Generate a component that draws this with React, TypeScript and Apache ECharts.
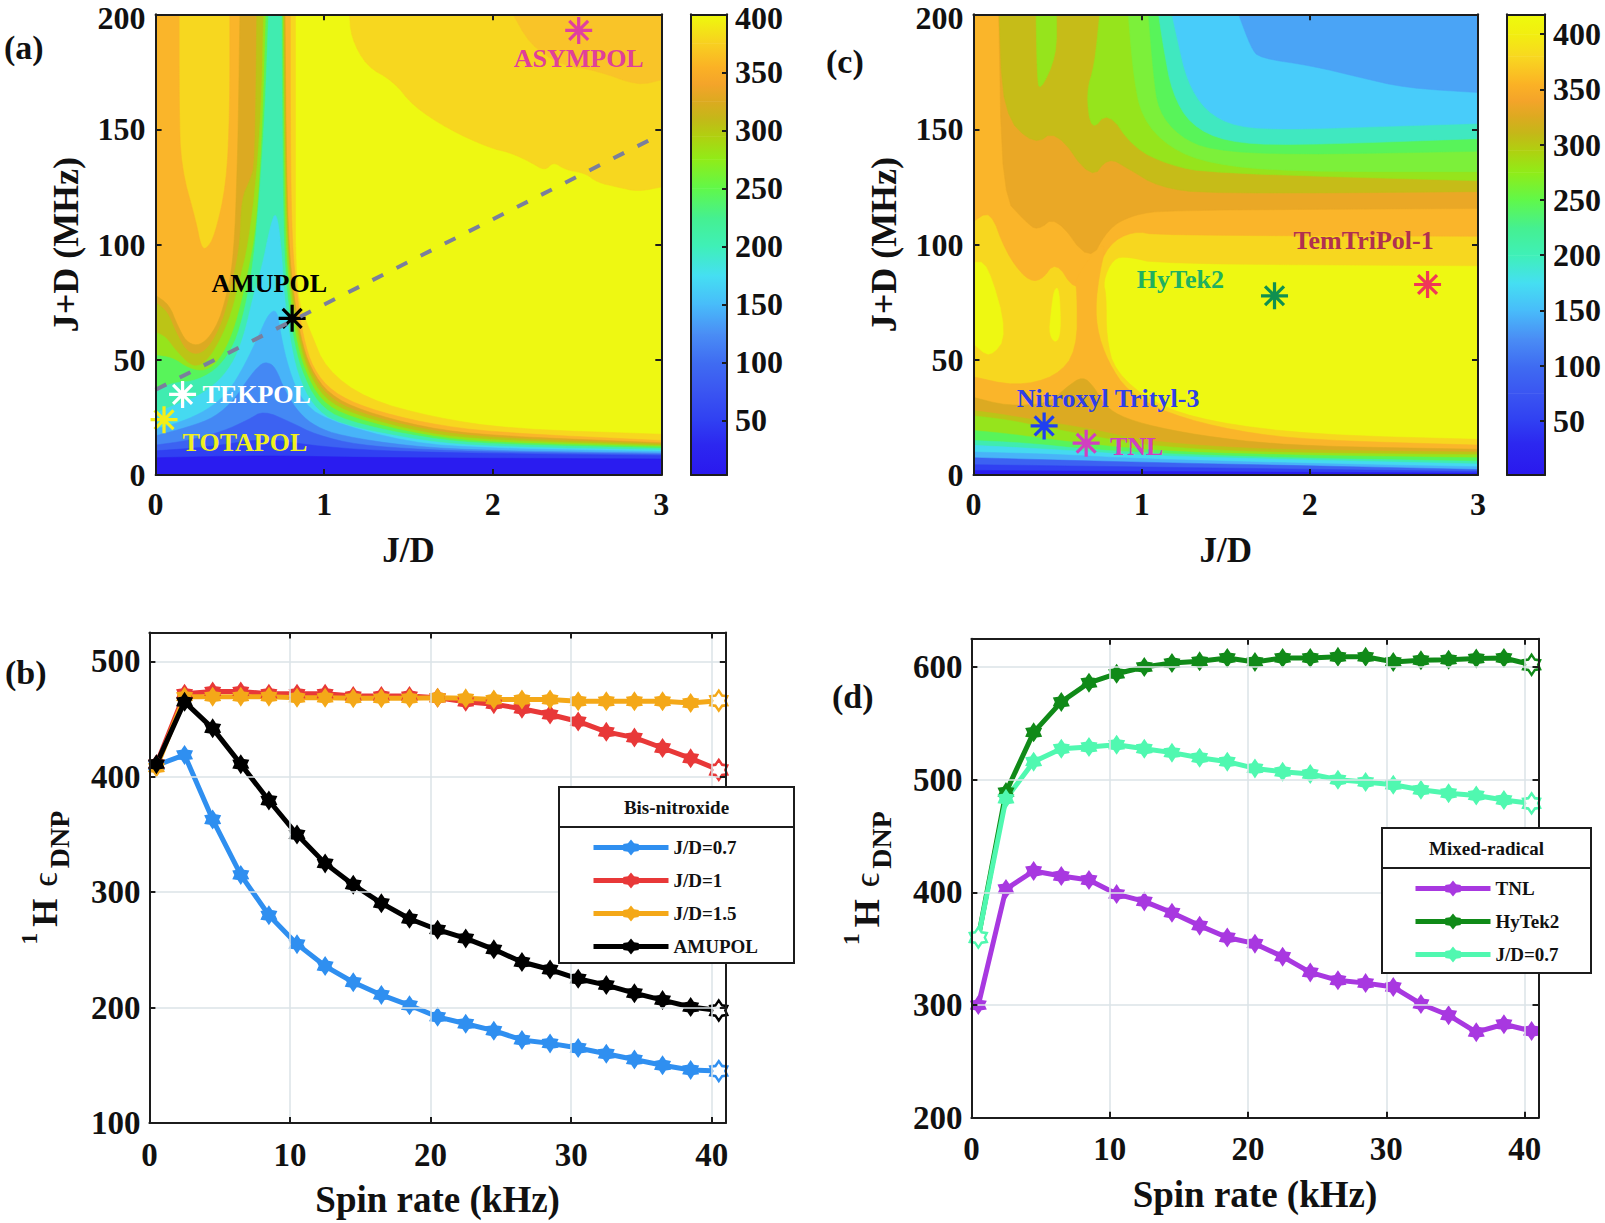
import React, { useEffect, useRef } from "react";
import * as echarts from "echarts";

const FONT = "'Liberation Serif','Times New Roman',serif";
type P = number[];

// ---------- line data (b) and (d)
const spinRate = [0.5, 2.5, 4.5, 6.5, 8.5, 10.5, 12.5, 14.5, 16.5, 18.5, 20.5, 22.5, 24.5, 26.5, 28.5, 30.5, 32.5, 34.5, 36.5, 38.5, 40.5];
const bJD07 = [410, 419, 363, 315, 280, 255, 236, 222, 211, 202, 192, 186, 180, 172, 169, 165, 160, 155, 150, 146, 145];
const bJD1 = [411, 472, 474, 474, 472, 472, 472, 470, 470, 470, 468.5, 465, 463, 459, 454, 448, 439, 434, 425, 416, 406];
const bJD15 = [408, 469.5, 469.5, 469.5, 469.5, 468.5, 468.5, 468, 468, 468, 468.5, 468, 467, 467, 467, 465.5, 465.5, 465.5, 465.5, 464, 466];
const bAmupol = [411, 465, 442, 411, 379.5, 350, 325, 306.5, 290.5, 277, 267.5, 260, 250.5, 239.5, 233, 225, 219.5, 212.5, 206.5, 200.5, 197.5];
const dTNL = [300, 403, 419, 414.5, 411, 398.5, 392, 382, 370.5, 360, 354.5, 343, 329, 322, 319.5, 316, 301, 291, 276, 283, 277];
const dHyTek2 = [360, 489, 542, 569, 586, 594, 600, 603.5, 605, 608, 604.5, 608, 608, 609, 609, 604.5, 606, 606.5, 607.5, 608, 602];
const dJD07 = [360, 483, 516, 527.5, 529, 531, 527.5, 524, 519.5, 516, 510, 507, 505, 500, 498, 495.5, 491, 488, 486, 482, 479];

// ---------- colour bar stops: [value, colour]
const cbarStops: [number, string][] = [[3, "#2a18ee"], [30, "#2c28f0"], [50, "#3040f2"], [75, "#3a55f2"], [100, "#3f6cf2"], [125, "#4a8ef5"], [150, "#48bcfa"], [175, "#45dff2"], [200, "#3ff0b8"], [225, "#45f090"], [250, "#60f84a"], [275, "#90ec18"], [295, "#b0d010"], [310, "#c4b818"], [325, "#dcaa20"], [340, "#f4a42a"], [355, "#fbb225"], [375, "#f8d020"], [400, "#eefa0c"]];
const cbarStopsC: [number, string][] = [[1, "#2a18ee"], [30, "#2c28f0"], [50, "#3040f2"], [75, "#3a55f2"], [100, "#3f6cf2"], [125, "#4a8ef5"], [150, "#48bcfa"], [175, "#45dff2"], [200, "#3ff0b8"], [225, "#45f090"], [250, "#60f84a"], [275, "#90ec18"], [295, "#b0d010"], [310, "#c4b818"], [325, "#dcaa20"], [340, "#f4a42a"], [355, "#fbb225"], [380, "#f8d820"], [400, "#f2ee10"], [418, "#eefa0c"]];
const cbarTicks = [50, 100, 150, 200, 250, 300, 350, 400];

// ---------- band colours
const YELLOW = "#eef812", GOLD = "#f7d71f", ORANGE = "#fab52a", DGOLD = "#dcaa22", YGREEN = "#bcc416", LIME = "#96e41c", GREEN = "#58f45a", TEAL = "#40ecb0", CYAN = "#45daf0", LBLUE = "#48b4f8", BLUE = "#4488f4", BLUE2 = "#3c62f2", BLUE3 = "#3040f2", BLUE4 = "#2a1cf0";

// ---------- panel (a) contour outlines, [J/D, J+D]
const aFull: P[] = [[0, 0], [0, 200], [3, 200], [3, 0]];
const aGoldMain: P[] = [[0, 0], [0, 200], [0.83, 200], [0.83, 140], [0.83, 78], [0.92, 62], [1.01, 46], [1.25, 33], [1.65, 25], [2.1, 20], [3, 17.7], [3, 0]];
const aGoldTop: P[] = [[1.15, 200], [1.16, 190], [1.25, 177.5], [1.41, 171], [1.53, 160], [1.74, 150], [1.98, 142], [2.1, 140], [2.22, 136], [2.31, 132], [2.36, 136], [2.43, 132.5], [2.55, 131], [2.62, 127], [2.74, 125], [2.86, 123], [3, 125], [3, 200]];
const aOrangeMain: P[] = [[0, 0], [0, 200], [0.14, 200], [0.14, 160], [0.15, 134], [0.24, 110], [0.27, 99], [0.3, 98], [0.35, 103.6], [0.42, 126], [0.44, 158], [0.44, 200], [0.8, 200], [0.8, 140], [0.81, 100], [0.84, 78], [0.875, 60], [0.935, 46], [1.05, 36], [1.25, 29], [1.6, 22.5], [2, 18.5], [3, 15], [3, 0]];
const aOrangeTop: P[] = [[2.12, 200], [2.22, 187], [2.4, 178], [2.62, 175.5], [2.86, 169], [3, 171.5], [3, 200]];
const aDGold: P[] = [[0, 0], [0, 78], [0.08, 74], [0.13, 65], [0.18, 58], [0.245, 56], [0.31, 59], [0.37, 66], [0.41, 75], [0.45, 88], [0.47, 105], [0.48, 125], [0.49, 150], [0.5, 200], [0.768, 200], [0.775, 140], [0.79, 100], [0.82, 78], [0.86, 60], [0.92, 46], [1.03, 35], [1.22, 28], [1.6, 20.5], [2, 17], [3, 14], [3, 0]];
const aYGreen: P[] = [[0, 0], [0, 75], [0.07, 71], [0.12, 62], [0.18, 54], [0.245, 52], [0.31, 55], [0.37, 62], [0.42, 72], [0.46, 85], [0.5, 100], [0.51, 120], [0.56, 128], [0.59, 135], [0.6, 200], [0.765, 200], [0.772, 140], [0.785, 100], [0.815, 78], [0.855, 60], [0.91, 46], [1.02, 34], [1.2, 27], [1.6, 19.5], [2, 16], [3, 13.5], [3, 0]];
const aLime: P[] = [[0, 0], [0, 62], [0.06, 60], [0.12, 54], [0.2, 48], [0.25, 47], [0.31, 50], [0.38, 58], [0.45, 70], [0.5, 85], [0.55, 100], [0.6, 130], [0.63, 165], [0.64, 200], [0.757, 200], [0.765, 140], [0.78, 100], [0.805, 78], [0.845, 60], [0.895, 46], [1, 33], [1.18, 26], [1.6, 18], [2, 15], [3, 12.8], [3, 0]];
const aGreen: P[] = [[0, 0], [0, 52], [0.1, 51], [0.2, 46], [0.3, 45], [0.38, 50], [0.45, 60], [0.5, 72], [0.55, 88], [0.6, 108], [0.635, 150], [0.655, 200], [0.752, 200], [0.76, 140], [0.77, 100], [0.795, 78], [0.83, 60], [0.88, 46], [0.98, 32], [1.15, 25], [1.6, 17], [2, 14], [3, 12.3], [3, 0]];
const aTeal: P[] = [[0, 0], [0, 37], [0.1, 40], [0.25, 41], [0.38, 47], [0.47, 57], [0.53, 72], [0.58, 92], [0.62, 125], [0.65, 160], [0.67, 200], [0.747, 200], [0.752, 140], [0.76, 100], [0.78, 78], [0.815, 60], [0.86, 46], [0.96, 31], [1.12, 23.5], [1.6, 16], [2, 13.3], [3, 11.6], [3, 0]];
const aCyan: P[] = [[0, 0], [0, 27], [0.1, 30], [0.25, 34], [0.38, 41], [0.47, 50], [0.53, 62], [0.58, 78], [0.63, 90], [0.68, 108], [0.715, 115], [0.745, 100], [0.762, 78], [0.795, 60], [0.84, 44], [0.93, 30], [1.08, 22], [1.6, 14.5], [2, 12.3], [3, 10.8], [3, 0]];
const aLBlue: P[] = [[0, 0], [0, 20], [0.15, 23], [0.3, 28], [0.42, 35], [0.5, 44], [0.57, 54], [0.62, 62], [0.67, 70], [0.72, 72], [0.745, 60], [0.79, 46], [0.86, 33], [1, 24], [1.5, 14], [2, 11.5], [3, 10.2], [3, 0]];
const aBlue: P[] = [[0, 0], [0, 17], [0.2, 21], [0.35, 25], [0.47, 33], [0.55, 42], [0.62, 48], [0.66, 49], [0.71, 47], [0.77, 36], [0.85, 27], [0.95, 21], [1.1, 17], [1.5, 12.5], [2, 10.5], [3, 9.5], [3, 0]];
const aBlue2: P[] = [[0, 0], [0, 13], [0.2, 15], [0.4, 19], [0.55, 24], [0.64, 28], [0.8, 23], [0.95, 17.5], [1.2, 13], [1.6, 11], [2, 10], [3, 9], [3, 0]];
const aBlue3: P[] = [[0, 0], [0, 10.5], [0.3, 12], [0.65, 16], [0.9, 13], [1.3, 10.5], [2, 9.3], [3, 8.5], [3, 0]];
const aBlue4: P[] = [[0, 0], [0, 7.5], [0.65, 8.5], [1.3, 7.5], [3, 7], [3, 0]];

// ---------- panel (c) contour outlines
const cGoldMain: P[] = [[0, 0], [0, 200], [3, 200], [3, 90.8], [1.1, 91.6], [0.92, 94.8], [0.83, 94], [0.77, 84], [0.79, 78], [0.79, 60], [0.84, 45], [1.07, 31], [1.41, 23], [2.02, 17.5], [3, 15.5], [3, 0]];
const cIslandL: P[] = [[0, 92.4], [0.082, 92.4], [0.204, 61], [0.098, 50.6], [0, 57]];
const cIslandM: P[] = [[0.48, 81], [0.51, 81], [0.52, 62], [0.49, 57], [0.45, 61], [0.46, 70]];
const cOrangeTop: P[] = [[0, 110], [0.1, 115], [0.19, 97], [0.31, 85], [0.4, 84], [0.49, 93], [0.6, 80], [0.72, 85], [0.8, 100], [0.95, 106], [1.1, 104], [3, 103.6], [3, 200], [0, 200]];
const cOrangeLow: P[] = [[0, 0], [0, 42.6], [0.25, 38.6], [0.49, 42.6], [0.616, 54], [0.616, 80], [0.6, 85], [0.8, 105], [0.73, 80], [0.73, 64], [0.8, 49], [0.92, 36], [1.16, 26.5], [1.56, 19], [2, 15.2], [3, 13], [3, 0]];
const cDGoldTop: P[] = [[0.15, 200], [0.17, 121], [0.31, 110], [0.38, 106], [0.49, 112.5], [0.69, 92], [0.8, 107], [0.95, 113], [1.16, 115], [3, 115.7], [3, 200]];
const cDGoldLow: P[] = [[0, 0], [0, 33.7], [0.2, 30], [0.45, 31], [0.55, 38], [0.65, 43], [0.72, 38], [0.78, 30], [0.9, 24.5], [1.16, 19.5], [1.56, 15], [2, 12.5], [3, 11.2], [3, 0]];
const cYGreenTop: P[] = [[0.152, 200], [0.174, 157], [0.36, 143], [0.49, 150], [0.7, 128], [0.8, 138], [0.92, 133], [1.1, 125], [1.4, 122], [3, 123], [3, 200]];
const cYGreenLow: P[] = [[0, 0], [0, 28], [0.2, 26], [0.4, 23.5], [0.7, 20], [1, 15], [1.5, 12], [2, 10.8], [3, 10], [3, 0]];
const cLimeTop: P[] = [[0.75, 200], [0.72, 178], [0.67, 166], [0.7, 149], [0.8, 158], [0.95, 142], [1.165, 134.5], [1.41, 131], [3, 127.7], [3, 200]];
const cLimePatch: P[] = [[0.372, 200], [0.378, 174], [0.393, 166], [0.494, 182], [0.494, 200]];
const cLimeLow: P[] = [[0, 0], [0, 25.7], [0.2, 24], [0.4, 21], [0.7, 17], [1, 13], [1.5, 10.5], [2, 9.5], [3, 8.8], [3, 0]];
const cGreenTop: P[] = [[0.92, 200], [0.95, 174], [1, 155], [1.165, 142], [1.41, 135], [1.87, 131.7], [3, 131.7], [3, 200]];
const cGreenLow: P[] = [[0, 0], [0, 19.3], [0.2, 18], [0.5, 15], [0.8, 12.5], [1.2, 10], [2, 8.5], [3, 7.5], [3, 0]];
const cGreen2Top: P[] = [[1.04, 200], [1.07, 174], [1.1, 158], [1.225, 147], [1.41, 141], [1.87, 139], [3, 140.5], [3, 200]];
const cTealTop: P[] = [[1.1, 200], [1.13, 185.5], [1.18, 166], [1.29, 152], [1.5, 144.6], [1.87, 143], [3, 146], [3, 200]];
const cTealLow: P[] = [[0, 0], [0, 15], [0.3, 14], [0.7, 11], [1.2, 9], [2, 7.2], [3, 6], [3, 0]];
const cCyanTop: P[] = [[1.18, 200], [1.21, 190], [1.27, 171], [1.38, 158], [1.56, 151], [1.87, 150], [2.32, 151], [3, 152.6], [3, 200]];
const cCyanLow: P[] = [[0, 0], [0, 12.9], [0.5, 11], [1, 8.5], [2, 6.5], [3, 4.8], [3, 0]];
const cLBlueTop: P[] = [[1.576, 200], [1.65, 185.5], [1.7, 181], [2.02, 177.5], [2.29, 172.7], [2.57, 168], [3, 166], [3, 200]];
const cLBlueLow: P[] = [[0, 0], [0, 10], [0.5, 9], [1, 7], [2, 5], [3, 3.6], [3, 0]];
const cBlueLow: P[] = [[0, 0], [0, 7.5], [1, 5.5], [2, 4], [3, 2.4], [3, 0]];
const cBlue3Low: P[] = [[0, 0], [0, 4.5], [1, 3.5], [3, 1.5], [3, 0]];
const cBlue4Low: P[] = [[0, 0], [0, 2], [3, 0.8], [3, 0]];

type Layer = { color: string; pts: P[] };
const layersA: Layer[] = ([[YELLOW, aFull], [GOLD, aGoldMain], [GOLD, aGoldTop], [ORANGE, aOrangeMain], ["#f9c428", aOrangeTop], [DGOLD, aDGold], [YGREEN, aYGreen], [LIME, aLime], [GREEN, aGreen], [TEAL, aTeal], [CYAN, aCyan], [LBLUE, aLBlue], [BLUE, aBlue], [BLUE2, aBlue2], [BLUE3, aBlue3], [BLUE4, aBlue4]] as [string, P[]][]).map(([color, pts]) => ({ color, pts }));
const layersC: Layer[] = ([[YELLOW, aFull], [GOLD, cGoldMain], [YELLOW, cIslandL], [YELLOW, cIslandM], [ORANGE, cOrangeTop], [ORANGE, cOrangeLow], ["#eaa826", cDGoldTop], [DGOLD, cDGoldLow], ["#c6bc18", cYGreenTop], [YGREEN, cYGreenLow], [LIME, cLimeTop], [LIME, cLimePatch], [LIME, cLimeLow], ["#7cf03a", cGreenTop], [GREEN, cGreenLow], [GREEN, cGreen2Top], ["#40e8c0", cTealTop], [TEAL, cTealLow], ["#48ccfa", cCyanTop], [CYAN, cCyanLow], ["#4aa4f6", cLBlueTop], [LBLUE, cLBlueLow], [BLUE2, cBlueLow], [BLUE3, cBlue3Low], [BLUE4, cBlue4Low]] as [string, P[]][]).map(([color, pts]) => ({ color, pts }));

// ---------- annotations
const aDashed: P[] = [[0, 37], [3, 148]];
const aStarPts: P[] = [[0.05, 24], [0.16, 35], [0.81, 68], [2.51, 193]];
const aStarColors = ["#f4ee18", "#ffffff", "#000000", "#e040a0"];
const aLabelNames = ["TOTAPOL", "TEKPOL", "AMUPOL", "ASYMPOL"];
const aLabelPts: P[] = [[0.53, 14.2], [0.6, 35], [0.674, 83], [2.51, 181]];
const aLabelColors = ["#f0f020", "#ffffff", "#000000", "#e0409a"];
const cStarPts: P[] = [[0.42, 21.3], [0.67, 13.8], [1.79, 77.8], [2.7, 82.7]];
const cStarColors = ["#2040f0", "#d040c0", "#109050", "#f03858"];
const cLabelNames = ["Nitroxyl Trityl-3", "TNL", "HyTek2", "TemTriPol-1"];
const cLabelPts: P[] = [[0.8, 33], [0.97, 12.4], [1.23, 85], [2.32, 102]];
const cLabelColors = ["#2f3fe8", "#d040c0", "#20b060", "#b03050"];

const STAR = "path://M44 0H56V100H44ZM0 44H100V56H0ZM19.2 10.8L89.2 80.8L80.8 89.2L10.8 19.2ZM80.8 10.8L89.2 19.2L19.2 89.2L10.8 80.8Z";
const DOT = "path://M50 0L66 24L92 28L82 50L92 72L66 76L50 100L34 76L8 72L18 50L8 28L34 24Z";

const xAxes: any[] = [], yAxes: any[] = [], grids: any[] = [], series: any[] = [];
const INK = "#1c1c1c";

// rounds the corners of an outline, leaving vertices on the plot frame in place
function rounded(pts: P[]) {
  let cur = pts;
  const fixed = (p: P) => p[0] <= 0 || p[0] >= 3 || p[1] <= 0 || p[1] >= 200;
  for (let it = 0; it < 2; it++) {
    const out: P[] = [];
    cur.forEach((p, i) => {
      const n = cur[(i + 1) % cur.length];
      if (fixed(p)) out.push(p);
      else out.push([0.75 * p[0] + 0.25 * n[0], 0.75 * p[1] + 0.25 * n[1]]);
      if (!fixed(n)) out.push([0.25 * p[0] + 0.75 * n[0], 0.25 * p[1] + 0.75 * n[1]]);
    });
    cur = out;
  }
  return cur;
}

function addGrid(left: number, top: number, width: number, height: number) {
  grids.push({ left, top, width, height, containLabel: false });
  return grids.length - 1;
}
function boxAxes(g: number, x: any, y: any) {
  const base = { gridIndex: g, type: "value", z: 6 };
  const line = { show: true, onZero: false, lineStyle: { color: INK, width: 2 } };
  const tick = { show: true, inside: true, length: 6, lineStyle: { color: INK, width: 2 } };
  const xi = xAxes.length, yi = yAxes.length;
  xAxes.push({ ...base, position: "bottom", axisLine: line, axisTick: tick, ...x });
  yAxes.push({ ...base, position: "left", axisLine: line, axisTick: tick, ...y });
  xAxes.push({ ...base, position: "top", min: x.min, max: x.max, interval: x.interval, axisLine: line, axisTick: tick, axisLabel: { show: false }, splitLine: { show: false } });
  yAxes.push({ ...base, position: "right", min: y.min, max: y.max, interval: y.interval, axisLine: line, axisTick: tick, axisLabel: { show: false }, splitLine: { show: false } });
  return { xi, yi };
}
const tickText = (size: number, margin: number, extra: any = {}) => ({ fontFamily: FONT, fontWeight: "bold", fontSize: size, color: "#111", margin, ...extra });
const nameStyle = (size: number) => ({ fontFamily: FONT, fontWeight: "bold", fontSize: size, color: "#111" });

// the top label of a 14 px margin is nudged down so that it stays on the page
const nudgedTop = (size: number, topValue: number) => ({
  formatter: (v: number) => (v === topValue ? `{t|${v}}` : `${v}`),
  rich: { t: { fontFamily: FONT, fontWeight: "bold", fontSize: size, color: "#111", padding: [8, 0, 0, 0] } },
});

function contourPanel(left: number, top: number, w: number, h: number, layers: Layer[], stars: P[], starColors: string[], names: string[], namePts: P[], nameColors: string[], dashed?: P[]) {
  const g = addGrid(left, top, w, h);
  const { xi, yi } = boxAxes(g,
    { min: 0, max: 3, interval: 1, splitLine: { show: false }, axisLabel: tickText(32, 13), name: "J/D", nameLocation: "middle", nameGap: 58, nameTextStyle: nameStyle(35) },
    { min: 0, max: 200, interval: 50, splitLine: { show: false }, axisLabel: tickText(32, 10, nudgedTop(32, 200)), name: "J+D (MHz)", nameLocation: "middle", nameGap: 72, nameTextStyle: nameStyle(36) });
  series.push({
    type: "custom", xAxisIndex: xi, yAxisIndex: yi, z: 2, silent: true, clip: true,
    data: layers.map((_, i) => [0, 0, i]),
    renderItem: (p: any, api: any) => {
      const l = layers[p.dataIndex];
      return { type: "polygon", shape: { points: rounded(l.pts).map((q) => api.coord(q)) }, style: { fill: l.color, stroke: l.color, lineWidth: 0.5 } };
    },
  });
  if (dashed) series.push({ type: "line", xAxisIndex: xi, yAxisIndex: yi, z: 5, showSymbol: false, data: dashed, lineStyle: { color: "#7a7f9c", width: 4, type: [12, 15] } });
  series.push({
    type: "scatter", xAxisIndex: xi, yAxisIndex: yi, z: 4, symbol: STAR, symbolSize: 27, itemStyle: { opacity: 1 },
    data: stars.map((v, i) => ({ value: v, itemStyle: { color: starColors[i], opacity: 1 } })),
  });
  series.push({
    type: "scatter", xAxisIndex: xi, yAxisIndex: yi, z: 4, symbolSize: 0, itemStyle: { opacity: 1 },
    data: names.map((n, i) => ({
      value: namePts[i],
      itemStyle: { opacity: 1 },
      label: { show: true, position: "inside", formatter: n, fontFamily: FONT, fontWeight: "bold", fontSize: 26, color: nameColors[i], opacity: 1 },
    })),
  });
}

function colorbar(left: number, top: number, w: number, h: number, stops: [number, string][], max: number) {
  const g = addGrid(left, top, w, h);
  const min = stops[0][0];
  const { xi, yi } = boxAxes(g,
    { min: 0, max: 1, axisTick: { show: false }, axisLabel: { show: false }, splitLine: { show: false } },
    { min, max, axisTick: { show: false }, axisLabel: { show: false }, splitLine: { show: false } });
  const right = yAxes[yi + 1];
  right.axisTick = { show: true, inside: true, length: 5, customValues: cbarTicks, lineStyle: { color: INK, width: 2 } };
  right.axisLabel = { show: true, customValues: cbarTicks, ...tickText(32, 8, max === 400 ? nudgedTop(32, 400) : {}) };
  delete right.interval;
  xAxes[xi + 1].axisTick = { show: false };
  delete xAxes[xi + 1].interval;
  series.push({
    type: "custom", xAxisIndex: xi, yAxisIndex: yi, z: 2, silent: true,
    data: stops.slice(1).map((s, i) => [0, s[0], i]),
    renderItem: (p: any, api: any) => {
      const a = stops[p.dataIndex], b = stops[p.dataIndex + 1];
      const p0 = api.coord([0, a[0]]), p1 = api.coord([1, b[0]]);
      return {
        type: "rect", shape: { x: p0[0], y: p1[1], width: p1[0] - p0[0], height: p0[1] - p1[1] + 0.5 },
        style: { fill: new echarts.graphic.LinearGradient(0, 1, 0, 0, [{ offset: 0, color: a[1] }, { offset: 1, color: b[1] }]) },
      };
    },
  });
}

function linePanel(left: number, top: number, w: number, h: number, yMin: number, yMax: number, nameGap: number, lines: [string, number[], string, number[]][]) {
  const g = addGrid(left, top, w, h);
  const split = { show: true, lineStyle: { color: "#dbe3e7", width: 1.5 } };
  const { xi, yi } = boxAxes(g,
    { min: 0, max: 41, interval: 10, splitLine: split, axisLabel: tickText(33, 15, { showMaxLabel: false }), name: "Spin rate (kHz)", nameLocation: "middle", nameGap: 58, nameTextStyle: nameStyle(37) },
    {
      min: yMin, max: yMax, interval: 100, splitLine: split, axisLabel: tickText(33, 9, { showMaxLabel: false }),
      name: "{a|1}{b|H}{c|ϵ}{d|DNP}", nameLocation: "middle", nameGap,
      nameTextStyle: {
        rich: {
          a: { fontFamily: FONT, fontWeight: "bold", fontSize: 24, color: "#111", verticalAlign: "top", lineHeight: 56, padding: [0, 6, 0, 0] },
          b: { fontFamily: FONT, fontWeight: "bold", fontSize: 36, color: "#111", lineHeight: 56, padding: [0, 12, 0, 0] },
          c: { fontFamily: FONT, fontSize: 36, color: "#111", lineHeight: 56, padding: [0, 4, 0, 0] },
          d: { fontFamily: FONT, fontWeight: "bold", fontSize: 28, color: "#111", verticalAlign: "bottom", lineHeight: 56 },
        },
      },
    });
  lines.forEach(([name, vals, color, hollow]) => {
    series.push({
      type: "line", name, xAxisIndex: xi, yAxisIndex: yi, z: 3, symbol: DOT, symbolSize: [17, 20], showAllSymbol: true, clip: false,
      itemStyle: { color }, lineStyle: { color, width: 5 },
      data: vals.map((v, i) => hollow.includes(i)
        ? { value: [spinRate[i], v], itemStyle: { color: "#fff", borderColor: color, borderWidth: 2.5 } }
        : { value: [spinRate[i], v] }),
    });
  });
}

contourPanel(155.6, 14.3, 505.7, 460.7, layersA, aStarPts, aStarColors, aLabelNames, aLabelPts, aLabelColors, aDashed);
colorbar(691, 14.3, 36, 460.7, cbarStops, 400);
contourPanel(973.5, 14.3, 504.5, 460.7, layersC, cStarPts, cStarColors, cLabelNames, cLabelPts, cLabelColors);
colorbar(1507, 14.3, 38, 460.7, cbarStopsC, 418);
linePanel(149.4, 632.6, 576.4, 490.4, 100, 525, 76, [["J/D=0.7", bJD07, "#2f8ff0", [20]], ["J/D=1", bJD1, "#e83838", [20]], ["J/D=1.5", bJD15, "#f4a818", [20]], ["AMUPOL", bAmupol, "#000000", [20]]]);
linePanel(971.4, 638.8, 567.1, 479, 200, 625, 76, [["TNL", dTNL, "#a838e0", []], ["HyTek2", dHyTek2, "#108a18", [20]], ["J/D=0.7 ", dJD07, "#50f8b0", [0, 20]]]);

const panelLetters: [string, number, number][] = [["(a)", 4, 47], ["(c)", 826, 61], ["(b)", 5, 672], ["(d)", 832, 696]];

function legendBox(x: number, y: number, w: number, h: number, split: number, title: string) {
  return [
    { type: "rect", z: 10, shape: { x, y, width: w, height: h }, style: { fill: "#fff", stroke: INK, lineWidth: 2 } },
    { type: "line", z: 10, shape: { x1: x, y1: split, x2: x + w, y2: split }, style: { stroke: INK, lineWidth: 2 } },
    { type: "text", z: 11, x: x + w / 2, y: (y + split) / 2, style: { text: title, fontFamily: FONT, fontWeight: "bold", fontSize: 19, fill: "#111", textAlign: "center", textVerticalAlign: "middle" } },
  ];
}

export default function App() {
  const ref = useRef<HTMLDivElement>(null);
  useEffect(() => {
    const chart = echarts.init(ref.current!, undefined, { renderer: "svg" });
    const legendBase = { z: 12, orient: "vertical", padding: 0, itemWidth: 75, itemHeight: 20, itemGap: 14, selectedMode: false, lineStyle: { width: 5 }, textStyle: { fontFamily: FONT, fontWeight: "bold", fontSize: 19, color: "#111" } };
    chart.setOption({
      animation: false,
      backgroundColor: "#fff",
      grid: grids,
      xAxis: xAxes,
      yAxis: yAxes,
      series,
      legend: [
        { ...legendBase, left: 591, top: 838, data: ["J/D=0.7", "J/D=1", "J/D=1.5", "AMUPOL"] },
        { ...legendBase, left: 1413, top: 879, data: ["TNL", "HyTek2", "J/D=0.7 "], formatter: (n: string) => n.trim() },
      ],
      graphic: [
        ...legendBox(559, 787, 235, 176, 827, "Bis-nitroxide"),
        ...legendBox(1382, 828, 209, 145, 868, "Mixed-radical"),
        ...panelLetters.map(([t, x, y]) => ({ type: "text", z: 11, x, y, style: { text: t, fontFamily: FONT, fontWeight: "bold", fontSize: 34, fill: "#111", textVerticalAlign: "middle" } })),
      ],
    });
    return () => chart.dispose();
  }, []);
  return <div ref={ref} style={{ position: "absolute", left: 0, top: 0, width: 1605, height: 1223 }} />;
}
